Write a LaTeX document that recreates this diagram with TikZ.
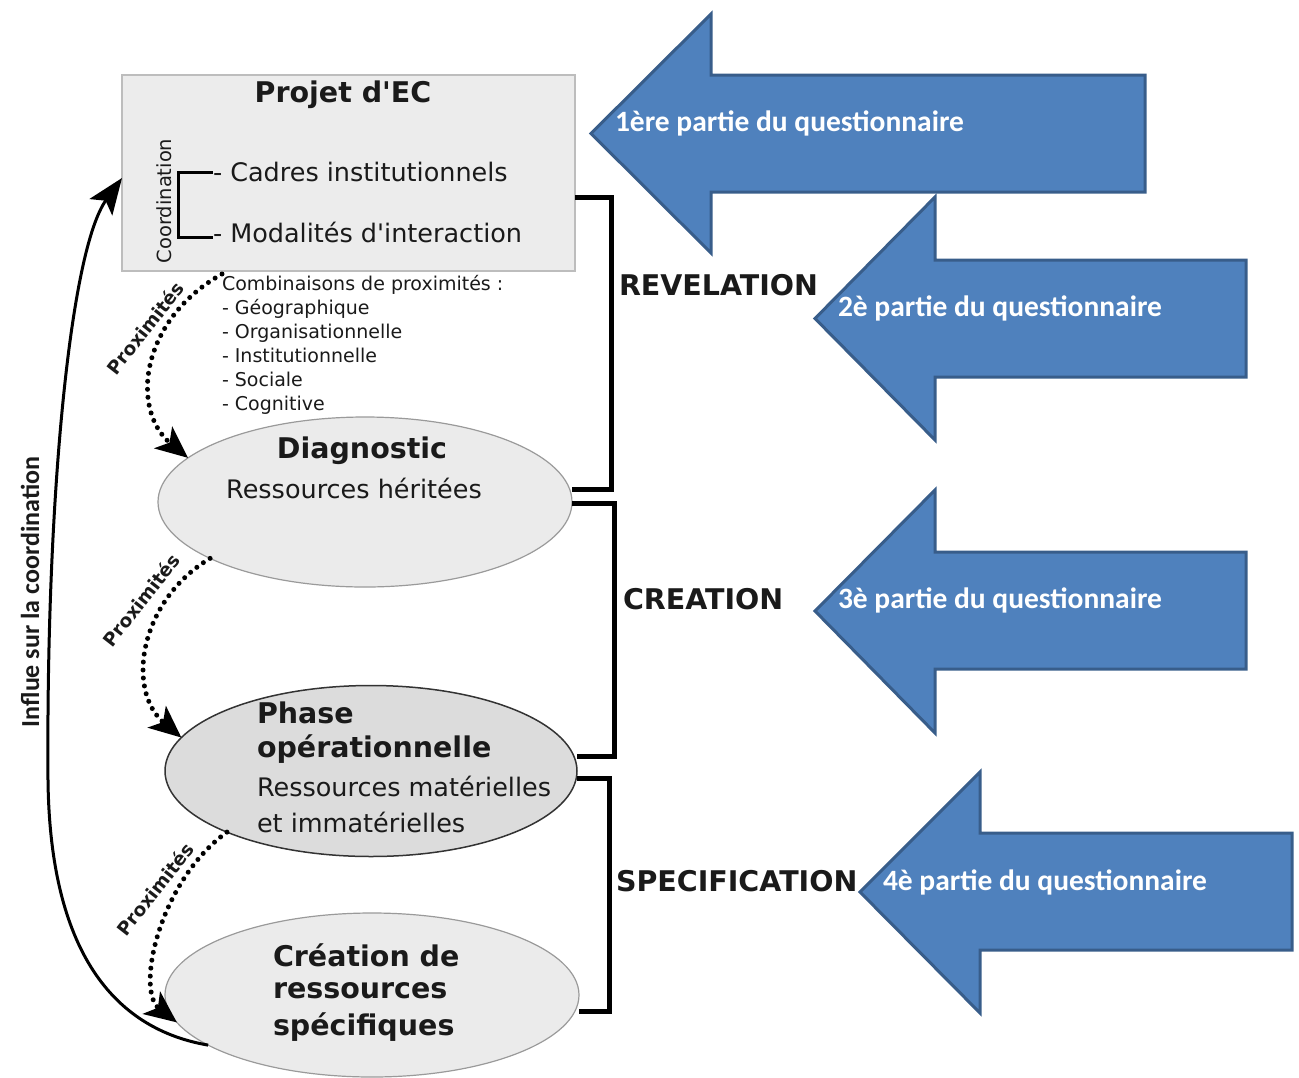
\documentclass[tikz,border=0pt]{standalone}
\usepackage{fontspec}
\setmainfont[Ligatures=TeXOff]{DejaVu Sans}
\newfontfamily\calfont{Carlito}
\usetikzlibrary{arrows.meta,shapes.geometric,calc}
\definecolor{boxfill}{HTML}{ECECEC}
\definecolor{boxline}{HTML}{BDBDBD}
\definecolor{ellfill}{HTML}{EBEBEB}
\definecolor{ellline}{HTML}{9A9A9A}
\definecolor{phasefill}{HTML}{DCDCDC}
\definecolor{phaseline}{HTML}{333333}
\definecolor{bluefill}{HTML}{4F81BD}
\definecolor{blueline}{HTML}{385D8A}
\definecolor{txt}{HTML}{1A1A1A}
\begin{document}
\begin{tikzpicture}[x=1pt,y=-1pt,
  every node/.style={inner sep=0pt, outer sep=0pt, text=txt},
  titlef/.style={font=\bfseries\fontsize{28.5}{33}\selectfont},
  boldf/.style={font=\bfseries\fontsize{28.5}{33}\selectfont},
  bodyf/.style={font=\fontsize{25.5}{30}\selectfont},
  smallf/.style={font=\fontsize{19}{24}\selectfont},
  proxf/.style={font=\bfseries\fontsize{18.5}{22}\selectfont, rotate=52},
  qf/.style={font=\calfont\bfseries\fontsize{29.5}{34}\selectfont, text=white, anchor=west},
  brk/.style={line width=5pt, draw=black},
  dotarrow/.style={line width=5pt, dash pattern=on 0pt off 8pt, line cap=round,
     -{Stealth[length=32pt, width=28pt, inset=8pt]}},
  bluearrow/.style={fill=bluefill, draw=blueline, line width=3pt, line join=miter},
  ell/.style={ellipse, draw=ellline, fill=ellfill, line width=1.2pt}
]
\useasboundingbox (0,0) rectangle (1299,1077);

% blue arrows
\draw[bluearrow] (1145,75) -- (711,75) -- (711,14) -- (591,133.5) -- (711,253) -- (711,192) -- (1145,192) -- cycle;
\draw[bluearrow] (1246,260) -- (935,260) -- (935,197) -- (815,318.5) -- (935,440) -- (935,377) -- (1246,377) -- cycle;
\draw[bluearrow] (1246,552) -- (935,552) -- (935,490) -- (815,611) -- (935,733) -- (935,669) -- (1246,669) -- cycle;
\draw[bluearrow] (1292,833) -- (980,833) -- (980,772) -- (860,892) -- (980,1013) -- (980,950) -- (1292,950) -- cycle;
\node[qf] (q1) at (615,123) {1ère partie du questionnaire};
\node[qf] (q2) at (838,308) {2è partie du questionnaire};
\node[qf] (q3) at (838,600) {3è partie du questionnaire};
\node[qf] (q4) at (883,882) {4è partie du questionnaire};

% project box
\node[draw=boxline, fill=boxfill, line width=1.5pt, minimum width=453pt, minimum height=196pt, anchor=north west] (box) at (122,75) {};
\node[titlef] (projet) at (343,95) {Projet d'EC};
\node[bodyf, anchor=west] (cadres) at (213,172) {- Cadres institutionnels};
\node[bodyf, anchor=west] (modal) at (213,232) {- Modalités d'interaction};
\node[font=\fontsize{19.5}{22}\selectfont, rotate=90] (coord) at (164,201) {Coordination};
\draw[line width=3pt] (cadres.west) -- ++(-35,0) |- ([yshift=-5pt]modal.west);

% proximity list
\node[smallf, align=left, anchor=north west] (combi) at (222,275) {Combinaisons de proximités :\\- Géographique\\- Organisationnelle\\- Institutionnelle\\- Sociale\\- Cognitive};

% ellipses
\node[ell, minimum width=414pt, minimum height=170pt] (diag) at (365,502) {};
\node[boldf] (diagt) at (362,451) {Diagnostic};
\node[bodyf] (diagr) at (354,488) {Ressources héritées};

\node[ellipse, draw=phaseline, fill=phasefill, line width=1.5pt, minimum width=412pt, minimum height=171pt] (phase) at (371,771) {};
\node[boldf, anchor=west] (ph1) at (257,713) {Phase};
\node[boldf, anchor=west] (ph2) at (257,749) {opérationnelle};
\node[bodyf, anchor=west] (ph3) at (257,786) {Ressources matérielles};
\node[bodyf, anchor=west] (ph4) at (257,822) {et immatérielles};

\node[ell, minimum width=414pt, minimum height=164pt] (crea) at (372,995) {};
\node[boldf, anchor=west] (cr1) at (273,955) {Création de};
\node[boldf, anchor=west] (cr2) at (273,991) {ressources};
\node[boldf, anchor=west] (cr3) at (273,1027) {spécifiques};

% brackets
\draw[brk] ([yshift=-24pt]box.east) -- ++(36,0) |- ([yshift=13pt]diag.east);
\draw[brk] ([yshift=-1pt]diag.east) -- ++(42,0) |- ([yshift=15pt]phase.east);
\draw[brk] ([yshift=-7pt]phase.east) -- ++(32,0) |- ([yshift=-16pt]crea.east);
\node[boldf, anchor=west] (rev) at (619,285) {REVELATION};
\node[boldf, anchor=west] (cre) at (623,599) {CREATION};
\node[boldf, anchor=west] (spec) at (616,881) {SPECIFICATION};

% proximity arrows
\coordinate (p1s) at ($(box.south west)+(100,3)$);
\draw[dotarrow] (p1s) .. controls (140,320) and (130,410) .. (diag.166);
\draw[dotarrow] (diag.200) .. controls (140,600) and (125,690) .. (phase.170);
\draw[dotarrow] (phase.203) .. controls (160,880) and (135,990) .. (crea.188);
\node[proxf] (px1) at (145,328) {Proximités};
\node[proxf] (px2) at (141,600) {Proximités};
\node[proxf] (px3) at (155,889) {Proximités};

% influence arrow
\draw[line width=3pt, -{Stealth[length=36pt, width=28pt, inset=8pt]}] (crea.197) .. controls (120,1030) and (50,960) .. (48,780) .. controls (46,500) and (70,250) .. ([yshift=-5pt]box.west);
\node[font=\calfont\bfseries\fontsize{26}{30}\selectfont, rotate=90] (influe) at (30,592) {Influe sur la coordination};
\end{tikzpicture}
\end{document}
